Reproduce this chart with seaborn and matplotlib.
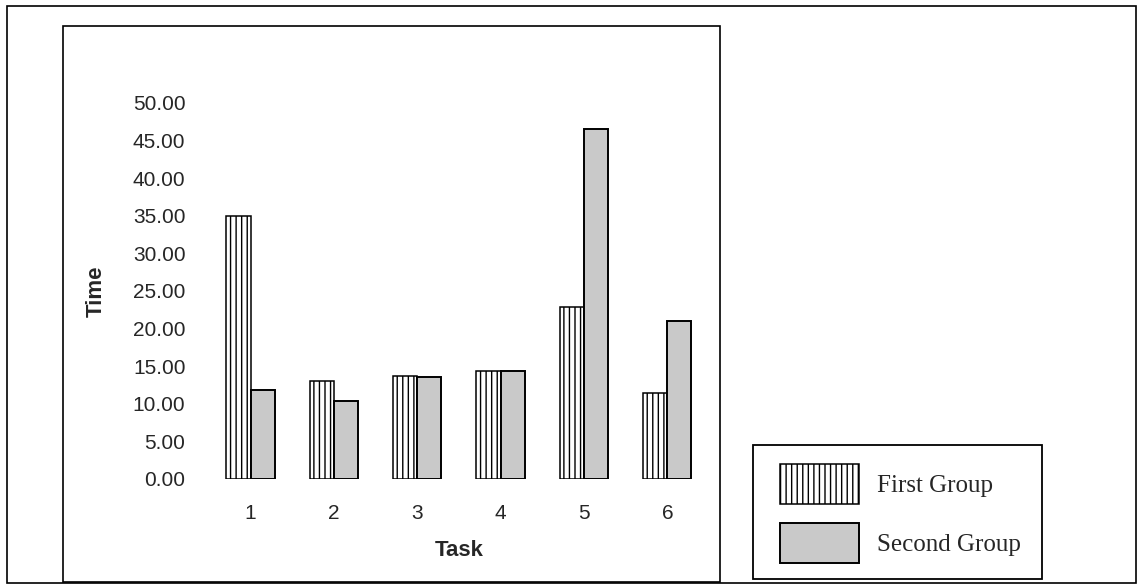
import pandas as pd
import seaborn as sns
import matplotlib.pyplot as plt
from matplotlib.patches import Rectangle

# 数据
tasks = ['1', '2', '3', '4', '5', '6']
first_group = [35.0, 13.0, 13.7, 14.4, 22.9, 11.5]
second_group = [11.8, 10.4, 13.5, 14.3, 46.5, 21.0]
groups = ['First Group', 'Second Group']
y_ticks = [0, 5, 10, 15, 20, 25, 30, 35, 40, 45, 50]

df = pd.DataFrame({
    'Task': tasks * 2,
    'Time': first_group + second_group,
    'Group': [groups[0]] * len(tasks) + [groups[1]] * len(tasks),
})

sns.set_style('white')
plt.rcParams['font.family'] = ['Liberation Sans', 'DejaVu Sans']
plt.rcParams['hatch.linewidth'] = 1.0

W, H = 1140, 584
fig = plt.figure(figsize=(W / 100, H / 100), dpi=100)
ax = fig.add_axes([209 / W, 1 - 479 / H, 500 / W, 376 / H])

sns.barplot(data=df, x='Task', y='Time', hue='Group', order=tasks,
            hue_order=groups, width=0.58, ax=ax, legend=False)

# 样式：第一组竖线填充，第二组灰色
for bar in ax.containers[0]:
    bar.set_facecolor('white')
    bar.set_edgecolor('black')
    bar.set_hatch('|||')
    bar.set_linewidth(1.1)
for bar in ax.containers[1]:
    bar.set_facecolor('#c9c9c9')
    bar.set_edgecolor('black')
    bar.set_linewidth(1.4)

ax.set_xlim(-0.5, 5.5)
ax.set_ylim(0, 50)
ax.set_yticks(y_ticks)
ax.set_yticklabels([f'{v:.2f}' for v in y_ticks])
ax.tick_params(axis='y', length=0, pad=17, labelsize=15)
ax.tick_params(axis='x', length=0, pad=18, labelsize=15)
sns.despine(ax=ax, left=True, bottom=True)
ax.set_xlabel('Task', fontsize=16, fontweight='bold', labelpad=12)
ax.set_ylabel('Time', fontsize=16, fontweight='bold', labelpad=19)

# 图例（边框单独画）
leg = fig.legend(ax.containers, groups, loc='upper left',
                 bbox_to_anchor=(780 / W, 1 - 464 / H), borderaxespad=0,
                 frameon=False, borderpad=0,
                 prop={'family': 'Liberation Serif', 'size': 18},
                 handlelength=3.16, handleheight=2.085, labelspacing=0.76,
                 handletextpad=0.72)
for h in leg.legend_handles:
    h.set_edgecolor('black')
fig.add_artist(Rectangle((753 / W, 1 - 579 / H), (1042 - 753) / W, (579 - 445) / H,
                         transform=fig.transFigure, fill=False,
                         edgecolor='black', linewidth=1.3))

# 外框
fig.add_artist(Rectangle((7 / W, 1 / H), (1136 - 7) / W, (583 - 6) / H,
                         transform=fig.transFigure, fill=False,
                         edgecolor='black', linewidth=1.2))
fig.add_artist(Rectangle((63 / W, 2 / H), (720 - 63) / W, (582 - 26) / H,
                         transform=fig.transFigure, fill=False,
                         edgecolor='black', linewidth=1.2))

fig.savefig('out.png', dpi=100)
